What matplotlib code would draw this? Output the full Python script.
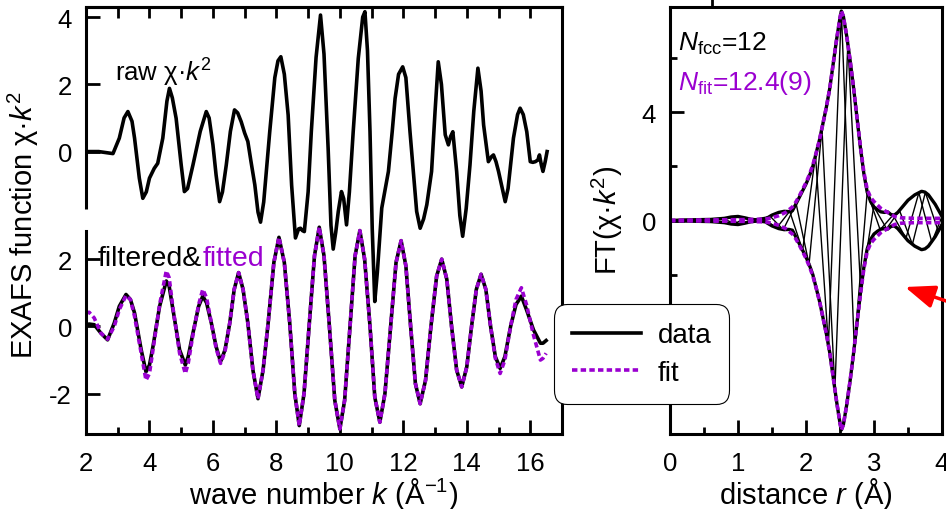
import numpy as np
import matplotlib.pyplot as plt
from matplotlib.lines import Line2D
from matplotlib.patches import FancyArrowPatch

plt.rcParams['font.family'] = ['Liberation Sans', 'DejaVu Sans']
plt.rcParams['mathtext.fontset'] = 'custom'
plt.rcParams['mathtext.rm'] = 'Liberation Sans'
plt.rcParams['mathtext.it'] = 'Liberation Sans:italic'
plt.rcParams['mathtext.bf'] = 'Liberation Sans:bold'

purple = '#9a00d0'
dotted = (0, (1.5, 0.9))

# ---- left panel: EXAFS in k space ----
k_raw = [2.0, 2.4, 2.85, 3.05, 3.2, 3.32, 3.45, 3.53, 3.68, 3.79, 3.9, 4.0, 4.15, 4.26,
         4.42, 4.55, 4.63, 4.72, 4.84, 5.0, 5.1, 5.2, 5.37, 5.6, 5.79, 5.88, 6.0, 6.1,
         6.21, 6.3, 6.42, 6.55, 6.68, 6.78, 6.89, 7.0, 7.1, 7.2, 7.32, 7.42, 7.5, 7.6,
         7.79, 7.95, 8.05, 8.14, 8.25, 8.37, 8.48, 8.6, 8.7, 8.76, 8.82, 8.88, 9.0, 9.1,
         9.25, 9.39, 9.5, 9.63, 9.72, 9.79, 9.87, 9.95, 10.05, 10.12, 10.21, 10.3, 10.42,
         10.58, 10.72, 10.79, 10.87, 10.95, 11.02, 11.1, 11.18, 11.32, 11.45, 11.53, 11.65,
         11.74, 11.85, 11.98, 12.08, 12.21, 12.42, 12.53, 12.64, 12.74, 12.89, 13.0, 13.1,
         13.2, 13.32, 13.42, 13.49, 13.56, 13.68, 13.78, 13.87, 13.98, 14.1, 14.22, 14.35,
         14.45, 14.53, 14.68, 14.78, 14.84, 14.92, 15.0, 15.21, 15.3, 15.47, 15.6, 15.68,
         15.78, 15.89, 16.0, 16.08, 16.16, 16.24, 16.29, 16.35, 16.4, 16.47, 16.53]
raw = [0.0, 0.0, -0.06, 0.4, 1.0, 1.19, 0.9, 0.4, -0.79, -1.39, -1.2, -0.79, -0.5, -0.35,
       0.4, 1.5, 1.88, 1.6, 0.99, -0.4, -1.19, -1.1, -0.4, 0.6, 1.19, 1.0, 0.2, -0.7,
       -1.49, -1.2, -0.4, 0.6, 1.24, 1.15, 0.89, 0.55, 0.3, -0.3, -0.99, -1.8, -2.1, -1.5,
       0.59, 2.2, 2.7, 2.82, 2.3, 1.09, -1.0, -2.57, -2.3, -2.28, -2.35, -2.38, -1.2, 0.59,
       2.8, 4.06, 2.9, 0.1, -2.2, -2.9, -2.4, -1.78, -1.19, -1.4, -2.18, -1.2, 0.59,
       2.77, 4.0, 4.16, 3.0, 0.59, -2.3, -4.46, -3.6, -1.68, -1.0, -0.59, 0.6,
       1.58, 2.3, 2.52, 2.2, 0.59, -1.78, -2.28, -2.0, -1.58, -0.59, 1.2, 2.67,
       2.0, 0.5, 0.2, 0.45, 0.59, -0.59, -1.9, -2.52, -1.7, -0.4, 1.2, 2.48,
       1.8, 0.79, -0.3, -0.15, -0.1, -0.3, -0.59, -1.49, -1.1, 0.4, 1.1, 1.29,
       1.1, 0.59, -0.3, -0.32, -0.3, -0.25, -0.1, -0.4, -0.59, -0.3, 0.0]

k_filt = [2.0, 2.1, 2.26, 2.47, 2.68, 2.89, 3.05, 3.26, 3.4, 3.53, 3.74, 3.89, 4.0, 4.11,
          4.32, 4.53, 4.62, 4.74, 4.95, 5.13, 5.22, 5.37, 5.55, 5.68, 5.8, 5.95, 6.1, 6.24,
          6.38, 6.53, 6.67, 6.81, 6.95, 7.1, 7.26, 7.42, 7.58, 7.74, 7.92, 8.08, 8.25, 8.42,
          8.58, 8.72, 8.87, 9.03, 9.2, 9.35, 9.5, 9.67, 9.84, 10.0, 10.15, 10.32, 10.48,
          10.63, 10.78, 10.95, 11.1, 11.26, 11.42, 11.6, 11.77, 11.93, 12.08, 12.23, 12.38,
          12.53, 12.7, 12.87, 13.05, 13.21, 13.37, 13.52, 13.68, 13.84, 14.0, 14.15, 14.3,
          14.45, 14.6, 14.75, 14.9, 15.05, 15.2, 15.38, 15.55, 15.72, 15.88, 16.1, 16.32,
          16.4, 16.5]
filtered = [0.05, 0.07, 0.05, -0.2, -0.4, 0.1, 0.6, 0.95, 0.8, 0.4, -0.7, -1.35, -1.15, -0.6,
            0.6, 1.35, 1.2, 0.5, -0.7, -1.15, -0.9, -0.2, 0.6, 0.9, 0.7, 0.1, -0.6, -1.05,
            -0.7, 0.1, 1.1, 1.6, 1.1, 0.1, -1.3, -2.15, -1.3, 0.1, 1.9, 2.65, 1.9, 0.1,
            -2.0, -2.95, -2.0, 0.0, 2.1, 2.95, 2.1, 0.0, -2.2, -3.05, -2.2, 0.0, 2.1,
            2.85, 2.0, 0.0, -2.1, -2.85, -2.0, 0.0, 1.9, 2.55, 1.8, 0.0, -1.7,
            -2.3, -1.6, 0.0, 1.5, 2.0, 1.4, 0.0, -1.3, -1.8, -1.2, 0.0, 1.1,
            1.55, 1.1, 0.0, -0.9, -1.25, -0.9, 0.0, 0.65, 0.9, 0.5, -0.1, -0.5,
            -0.5, -0.42]
fitted = [0.4, 0.42, 0.25, -0.2, -0.38, 0.0, 0.5, 0.92, 0.8, 0.3, -0.8, -1.6, -1.4, -0.7,
          0.65, 1.65, 1.45, 0.55, -0.8, -1.4, -1.1, -0.25, 0.65, 1.1, 0.85, 0.1, -0.65, -1.1,
          -0.75, 0.1, 1.1, 1.6, 1.1, 0.1, -1.3, -2.15, -1.3, 0.1, 1.9, 2.65, 1.9, 0.1,
          -2.0, -2.95, -2.0, 0.0, 2.1, 2.95, 2.1, 0.0, -2.2, -3.05, -2.2, 0.0, 2.1,
          2.85, 2.0, 0.0, -2.1, -2.85, -2.0, 0.0, 1.9, 2.55, 1.8, 0.0, -1.7,
          -2.3, -1.6, 0.0, 1.5, 2.0, 1.4, 0.0, -1.3, -1.8, -1.2, 0.0, 1.1,
          1.55, 1.1, 0.0, -0.95, -1.4, -1.0, 0.0, 0.8, 1.15, 0.65, -0.25, -1.0,
          -0.95, -0.8]
raw_offset = 5.2

# ---- right panel: Fourier transform in r space ----
r_env = [0.0, 0.2, 0.4, 0.6, 0.8, 0.9, 1.0, 1.1, 1.2, 1.3, 1.4, 1.5, 1.6, 1.68, 1.75, 1.8,
         1.87, 1.95, 2.0, 2.05, 2.1, 2.15, 2.2, 2.25, 2.3, 2.35, 2.4, 2.45, 2.5, 2.52, 2.55,
         2.6, 2.65, 2.7, 2.75, 2.8, 2.85, 2.9, 2.95, 3.0, 3.05, 3.1, 3.15, 3.2, 3.25, 3.3,
         3.35, 3.4, 3.5, 3.6, 3.7, 3.75, 3.8, 3.9, 4.0]
ft_mag = [0.0, 0.02, 0.03, 0.04, 0.08, 0.13, 0.15, 0.1, 0.04, 0.02, 0.05, 0.2, 0.3, 0.34,
          0.33, 0.36, 0.7, 1.1, 1.35, 1.65, 2.0, 2.5, 3.0, 3.6, 4.2, 4.9, 5.8, 6.7, 7.5,
          7.75, 7.55, 6.8, 5.9, 4.9, 3.8, 2.7, 1.75, 1.05, 0.7, 0.5, 0.4, 0.32, 0.3, 0.32,
          0.22, 0.2, 0.3, 0.45, 0.75, 0.95, 1.08, 1.05, 0.95, 0.6, 0.15]
r_fit = [0.0, 0.5, 1.0, 1.4, 1.5, 1.6, 1.7, 1.8, 1.85, 1.9, 1.95, 2.0, 2.05, 2.1, 2.15, 2.2,
         2.25, 2.3, 2.35, 2.4, 2.45, 2.5, 2.52, 2.55, 2.6, 2.65, 2.7, 2.75, 2.8, 2.85, 2.9,
         2.95, 3.0, 3.1, 3.2, 3.3, 3.4, 3.6, 3.8, 4.0]
fit_mag = [0.01, 0.02, 0.03, 0.05, 0.1, 0.18, 0.3, 0.5, 0.68, 0.9, 1.15, 1.4, 1.7, 2.05,
           2.5, 3.0, 3.6, 4.2, 4.9, 5.8, 6.7, 7.5, 7.75, 7.55, 6.8, 5.9, 4.9, 3.8, 2.75,
           1.8, 1.15, 0.85, 0.7, 0.45, 0.3, 0.15, 0.1, 0.08, 0.08, 0.08]
r_re = [0.0, 0.5, 0.8, 0.95, 1.1, 1.25, 1.38, 1.57, 1.76, 1.95, 2.14, 2.33, 2.52, 2.71,
        2.9, 3.09, 3.28, 3.47, 3.66, 3.85, 4.0]
ft_re = [0.0, 0.01, 0.05, -0.12, 0.08, 0.0, 0.05, -0.27, 0.34, -1.1, 2.4, -4.6, 7.75, -4.7,
         1.05, -0.34, 0.2, -0.66, 1.03, -0.8, 0.15]
r_im = [0.0, 0.6, 0.88, 1.02, 1.2, 1.475, 1.665, 1.855, 2.045, 2.235, 2.425, 2.615, 2.805,
        2.995, 3.185, 3.375, 3.565, 3.755, 3.945, 4.0]
ft_im = [0.0, 0.02, 0.1, -0.14, 0.03, 0.15, -0.34, 0.62, -1.62, 3.4, -6.25, 6.55, -2.6,
         0.52, -0.3, 0.37, -0.88, 1.04, -0.4, -0.1]

W, H = 946, 510
fig = plt.figure(figsize=(W / 100, H / 100), dpi=100)

# left axes
ax = fig.add_axes([86 / W, 75 / H, 476 / W, 427 / H])
ax.plot(k_raw, np.array(raw) + raw_offset, color='k', lw=2.6, solid_joinstyle='round')
ax.plot(k_filt, filtered, color='k', lw=2.6, solid_joinstyle='round')
ax.plot(k_filt, fitted, color=purple, lw=2.6, ls=dotted)
ax.set_xlim(2, 17)
ax.set_ylim(-3.2, 9.5)
ax.set_xticks([2, 4, 6, 8, 10, 12, 14, 16])
ax.set_xticks([3, 5, 7, 9, 11, 13, 15], minor=True)
ax.set_yticks([-2, 0, 2, raw_offset, raw_offset + 2, raw_offset + 4])
ax.set_yticklabels(['-2', '0', '2', '0', '2', '4'])
ax.tick_params(direction='in', length=10, width=2, labelsize=18.5)
ax.tick_params(axis='x', pad=12)
ax.tick_params(axis='y', pad=10)
ax.tick_params(which='minor', direction='in', length=5, width=2)
for s in ax.spines.values():
    s.set_linewidth(2.2)
ax.spines['left'].set_bounds(-3.2, 2.85)
ax.plot([0, 0], [3.5, 9.5], color='k', lw=2.2, transform=ax.get_yaxis_transform(),
        clip_on=False, solid_capstyle='butt')
top = ax.secondary_xaxis('top')
top.set_xticks(range(3, 17))
top.tick_params(direction='in', length=8, width=2, labeltop=False)
top.spines['top'].set_linewidth(2.2)
ax.set_xlabel(r'wave number $k$ (Å$^{-1}$)', fontsize=21, labelpad=0)
fig.text(23 / W, 1 - 225 / H, r'EXAFS function χ·$k^2$', rotation=90, fontsize=21,
         ha='center', va='center')
ax.text(2.9, raw_offset + 2.1, r'raw χ·$k^2$', fontsize=18.5, va='baseline')
t1 = ax.text(2.38, 1.83, 'filtered&', fontsize=20.5, va='baseline')
ax.annotate('fitted', xy=(1, 0), xycoords=t1, va='bottom', ha='left', fontsize=20.5,
            color=purple)

# right axes
axr = fig.add_axes([670 / W, 75 / H, 272 / W, 427 / H])
axr.plot(r_re, ft_re, color='k', lw=1.0)
axr.plot(r_im, ft_im, color='k', lw=1.0)
axr.plot(r_env, ft_mag, color='k', lw=2.4, solid_joinstyle='round')
axr.plot(r_env, -np.array(ft_mag), color='k', lw=2.4, solid_joinstyle='round')
axr.plot(r_fit, fit_mag, color=purple, lw=2.6, ls=dotted)
axr.plot(r_fit, -np.array(fit_mag), color=purple, lw=2.6, ls=dotted)
axr.set_xlim(0, 4)
axr.set_ylim(-7.9, 7.9)
axr.set_xticks([0, 1, 2, 3, 4])
axr.set_xticks([0.5, 1.5, 2.5, 3.5], minor=True)
axr.set_yticks([-4, 0, 4])
axr.set_yticks([-6, -2, 2, 6], minor=True)
axr.tick_params(direction='in', length=10, width=2, labelsize=18.5)
axr.tick_params(axis='x', pad=12)
axr.tick_params(axis='y', pad=10)
axr.tick_params(which='minor', direction='in', length=5, width=2)
for s in axr.spines.values():
    s.set_linewidth(2.2)
axr.set_xlabel(r'distance $r$ (Å)', fontsize=21, labelpad=0)
fig.text(607 / W, 1 - 220 / H, r'FT(χ·$k^2$)', rotation=90, fontsize=21,
         ha='center', va='center')
axr.text(0.12, 6.3, r'$N_{\mathrm{fcc}}$=12', fontsize=19, va='baseline')
axr.text(0.12, 4.85, r'$N_{\mathrm{fit}}$=12.4(9)', fontsize=19, va='baseline', color=purple)

# legend spanning both panels
handles = [Line2D([], [], color='k', lw=2.6),
           Line2D([], [], color=purple, lw=2.6, ls=dotted)]
leg = fig.legend(handles, ['data', 'fit'], loc='center',
                 bbox_to_anchor=(641.5 / W, 1 - 355 / H), fontsize=20, frameon=True,
                 fancybox=True, framealpha=1, edgecolor='k', handlelength=2.5,
                 handletextpad=0.6, borderpad=0.65, labelspacing=0.4)
leg.get_frame().set_linewidth(0.8)
leg.legendPatch.set_boxstyle('round', pad=0, rounding_size=0.5)

# red arrow coming in from the right edge, and stray mark above right panel
fig.add_artist(FancyArrowPatch((955 / W, 1 - 305 / H), (905 / W, 1 - 288 / H),
                               transform=fig.transFigure, color='red', lw=2.5,
                               shrinkA=0, shrinkB=0,
                               arrowstyle='-|>,head_length=0.9,head_width=0.35',
                               mutation_scale=20))
fig.add_artist(Line2D([712 / W, 712 / W], [1 - 8 / H, 1], transform=fig.transFigure,
                      color='k', lw=2))

fig.savefig('out.png', dpi=100)
